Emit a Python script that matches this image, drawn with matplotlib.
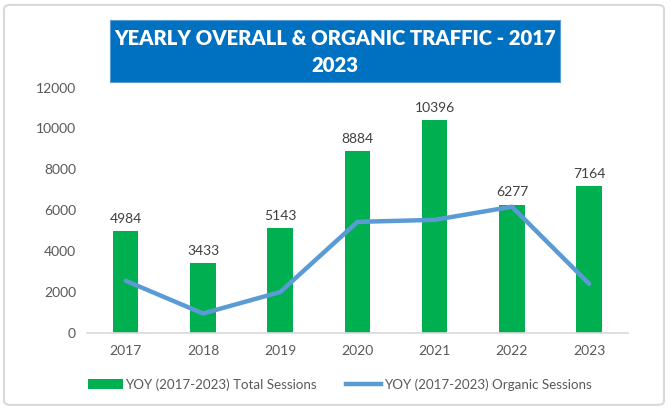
import matplotlib
matplotlib.use("Agg")
import matplotlib.pyplot as plt
from matplotlib.patches import FancyBboxPatch, Rectangle
from matplotlib.lines import Line2D
from matplotlib.patches import Patch

years = ["2017", "2018", "2019", "2020", "2021", "2022", "2023"]
total_sessions = [4984, 3433, 5143, 8884, 10396, 6277, 7164]
organic_sessions = [2550, 950, 2000, 5430, 5530, 6170, 2400]
yticks = [0, 2000, 4000, 6000, 8000, 10000, 12000]

plt.rcParams['font.family'] = ['Lato', 'DejaVu Sans']
fig = plt.figure(figsize=(6.7, 4.09), dpi=100)

# outer border
border = FancyBboxPatch((0.006, 0.01), 0.985, 0.978, boxstyle="round,pad=0,rounding_size=0.01",
                        transform=fig.transFigure, facecolor='white', edgecolor='#D9D9D9', lw=1.5,
                        zorder=-10)
fig.patches.append(border)

ax = fig.add_axes([0.130, 0.186, 0.807, 0.600])
ax.set_zorder(5)
x = list(range(len(years)))
ax.bar(x, total_sessions, width=0.33, color='#00B050', zorder=2)
ax.plot(x, organic_sessions, color='#5B9BD5', lw=3.2, solid_capstyle='round', zorder=3)
for xi, v in zip(x, total_sessions):
    ax.text(xi, v + 300, str(v), ha='center', va='bottom', fontsize=10, color='#404040')

ax.set_xlim(-0.5, len(years) - 0.5)
ax.set_ylim(0, 12000)
ax.set_yticks(yticks)
ax.set_yticklabels([str(t) for t in yticks])
ax.set_xticks(x)
ax.set_xticklabels(years)
ax.tick_params(axis='both', length=0, labelsize=10, colors='#595959')
ax.tick_params(axis='x', pad=9)
ax.tick_params(axis='y', pad=8)
for s in ['top', 'right', 'left']:
    ax.spines[s].set_visible(False)
ax.spines['bottom'].set_color('#D9D9D9')
ax.spines['bottom'].set_linewidth(1.2)
ax.set_facecolor('none')

# title box
fig.patches.append(Rectangle((0.164, 0.80), 0.672, 0.152, transform=fig.transFigure,
                             facecolor='#0070C0', edgecolor='#5B9BD5', lw=0.8, zorder=1))
fig.text(0.5, 0.873, "YEARLY OVERALL & ORGANIC TRAFFIC - 2017\n2023", ha='center', va='center',
         color='white', fontsize=14.6, fontweight='heavy', linespacing=1.45, zorder=2)

handles = [Patch(facecolor='#00B050'), Line2D([0], [0], color='#5B9BD5', lw=3.2)]
labels = ["YOY (2017-2023) Total Sessions", "YOY (2017-2023) Organic Sessions"]
fig.legend(handles, labels, loc='center', bbox_to_anchor=(0.507, 0.06), ncol=2, frameon=False,
           fontsize=9.6, labelcolor='#595959', handlelength=2.6, handletextpad=0.2, columnspacing=2.2)

fig.savefig("out.png", dpi=100)
